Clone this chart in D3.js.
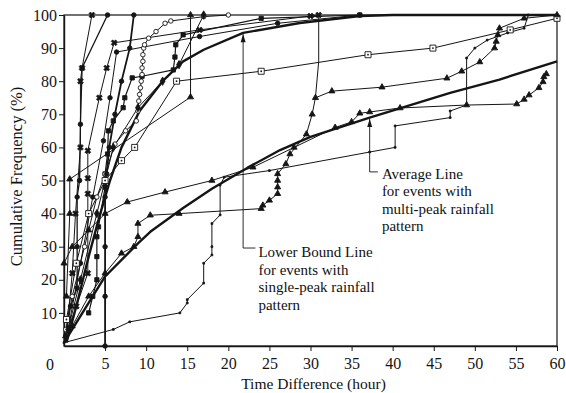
<!DOCTYPE html>
<html>
<head>
<meta charset="utf-8">
<script src="https://cdn.jsdelivr.net/npm/d3@7"></script>
<style>
  body { margin: 0; background: #fff; }
  text { font-family: "Liberation Serif", "Times New Roman", serif; fill: #111; }
</style>
</head>
<body>
<div id="rootDiv"></div>
<script>
// tick labels
const xTicks = [5, 10, 15, 20, 25, 30, 35, 40, 45, 50, 55, 60]
const yTicks = [10, 20, 30, 40, 50, 60, 70, 80, 90, 100]

// thick reference lines [hour, %]
const avgMulti = [[0,1],[2,9],[5,21],[9,31],[10.5,34.5],[14.5,41.7],[18,47.5],[22.3,53.8],[26.3,59.2],[30,63.2],[37.2,69],[47,76.5],[53,80.5],[60,86]]
const lowerSingle = [[0.3,1],[1.5,12],[3,27],[4.3,39],[5.6,50],[7,60],[9.2,71],[12,80],[14.5,86],[17,89.5],[21.8,94.6],[28.7,97.6],[36,99.7],[40,100],[60,100]]

// individual events
const evA = [[0.2,3],[0.8,12],[1.6,17.5],[1.6,30],[1.6,45],[1.9,50],[2,67],[2.2,84],[5.3,100]]
const evB = [[0.5,8],[1,22],[1.4,40],[2,60],[2,80],[2.2,84],[3.4,100]]
const evC = [[0.5,5],[1.5,12],[2.9,22],[2.9,46],[2.9,50.7],[2.9,59],[4.3,75],[5.2,84],[6.1,91.6],[16.5,95.5],[30,99.7],[31,100]]
const evD = [[0.5,5],[2,25],[3.5,45],[4.8,62],[5.6,75],[6.4,88.8],[16.5,93.5],[26,97.5],[36,100]]
const evSqO = [[0.3,8],[1.5,25],[3,40],[5,50],[7,56],[8.6,60],[13.7,80],[24,83],[37,88],[44.9,90],[54.3,95.5],[60,99]]
const evSq = [[3,10],[3.5,15],[4,20],[4,27],[4,33],[4.2,36],[5,48],[5,52],[5.3,58],[5.4,65],[6,68],[7.2,72],[7.4,75],[8.3,81],[9.5,81.5],[13.3,83.4],[13.5,87.3],[13.6,91],[14.5,94],[24,99],[36,100]]
const evCircO = [[0.2,5],[1,15],[2.5,30],[4,45],[5,52],[6.2,61],[7.5,65],[8.8,68],[9,71],[9.1,74],[9.2,76],[9.3,78],[9.4,80],[9.5,82],[9.5,84],[9.6,86],[9.6,88],[9.7,90],[9.8,91],[10.3,93],[11.2,95],[12.3,97.5],[13,98.2],[17,99.5],[20,100]]
const evE = [[0,25],[1,30],[3,35],[5,40],[7.7,43.5],[12.3,46.5],[18,50],[23,54],[28,60],[33,66],[35,67.7],[36,70.3],[37.2,70.7],[40.9,71.9],[49,72.8],[55.1,73.1],[56,74.5],[56.6,75.8],[57.8,78],[58.3,79.8],[58.4,81.3],[58.7,82.2]]
const evF = [[0.2,3],[1,6],[3,15],[5,22],[7,28],[8.5,30],[9,33],[9,37],[10.5,39.5],[14,40],[24,41.5],[24.2,42.5],[25,44],[26,46],[26,48],[26,50],[26,52],[27,55],[27.5,58],[29.5,64],[30.2,70],[30.6,75],[32.6,77],[38.7,78.2],[46.6,80.9],[48.4,83],[50.6,85.8],[52.4,90],[52.6,92],[52.8,94],[53,96],[56,99],[60,100]]
const evG = [[30.6,75],[31,86],[31,100]]
const evH = [[0.3,15],[0.7,40],[0.7,50.4],[15.4,75.2],[15.4,100]]
const evM = [[5,0],[5,15],[5,30],[5,45],[5.2,52],[5.5,60],[6.2,70],[7,80],[8,90],[8.5,100]]
const evO = [[0.5,5],[2,20],[4,40],[6,60],[9,72],[12,80],[14,85],[17,100]]
const evStep = [[0,1],[6,5],[8,7.3],[14.1,10],[15,13],[15,14],[17,19],[17,25],[18,27.5],[18,30],[18,37],[19,39.6],[19,48.6],[19.5,51],[25,53],[37.2,58.6],[40.3,60],[40.3,66.5],[47,69],[47,71],[49,72.8],[49,87],[50,90],[51.5,92.4],[54,94.6],[56,96],[56.5,100]]

// callouts: leader line points [hour, %]
const lowerArrow = [[23.3,29.6],[21.8,29.6],[21.8,94.2]]
const avgArrow = [[38.2,52.6],[37.2,52.6],[37.2,68.6]]
const lowerLabel = ["Lower Bound Line", "for events with", "single-peak rainfall", "pattern"]
const avgLabel = ["Average Line", "for events with", "multi-peak rainfall", "pattern"]

const series = [
    { d: avgMulti, w: 2.4, m: null },
    { d: lowerSingle, w: 2.4, m: null },
    { d: evA, w: 1.3, m: "circle" },
    { d: evB, w: 1, m: "x" },
    { d: evC, w: 1, m: "x" },
    { d: evD, w: 1, m: "circle" },
    { d: evSqO, w: 1, m: "osquare" },
    { d: evSq, w: 1.2, m: "square" },
    { d: evCircO, w: 1, m: "ocircle" },
    { d: evE, w: 1, m: "triangle" },
    { d: evF, w: 1, m: "triangle" },
    { d: evG, w: 1, m: null },
    { d: evH, w: 1, m: "triangle" },
    { d: evM, w: 1.8, m: "circle" },
    { d: evO, w: 1, m: "diamond" },
    { d: evStep, w: 1, m: "tick" },
]

const width = 566
const height = 393
const margin = { top: 15, right: 9, bottom: 47, left: 64 }

const svg = d3.select(document.getElementById("rootDiv"))
    .append("svg")
    .attr("width", width)
    .attr("height", height)

const x = d3.scaleLinear().domain([0, 60]).range([margin.left, width - margin.right])
const y = d3.scaleLinear().domain([0, 100]).range([height - margin.bottom, margin.top])

const ink = "#151515"

// frame
svg.append("rect")
    .attr("x", x(0)).attr("y", y(100))
    .attr("width", x(60) - x(0)).attr("height", y(0) - y(100))
    .attr("fill", "none").attr("stroke", ink).attr("stroke-width", 1.2)

// axes
const xAxis = svg.append("g")
    .attr("transform", `translate(0,${y(0)})`)
    .call(d3.axisBottom(x).tickValues(xTicks).tickSize(5).tickSizeOuter(0).tickPadding(7))
const yAxis = svg.append("g")
    .attr("transform", `translate(${x(0)},0)`)
    .call(d3.axisLeft(y).tickValues(yTicks).tickSize(5).tickSizeOuter(0).tickPadding(2))

for (const axis of [xAxis, yAxis]) {
    axis.selectAll("line").style("stroke", ink)
    axis.selectAll("path").style("stroke", ink).style("stroke-width", 1.4)
    axis.selectAll("text").style("fill", ink).style("font-size", "16px")
        .style("font-family", '"Liberation Serif", serif')
}
// lone origin label
svg.append("text")
    .attr("x", x(0) - 14).attr("y", y(0) + 24)
    .attr("text-anchor", "middle").style("font-size", "16px")
    .text("0")

// series
const line = d3.line().x(d => x(d[0])).y(d => y(d[1]))
const plot = svg.append("g")

for (const s of series) {
    plot.append("path")
        .attr("d", line(s.d))
        .attr("fill", "none")
        .attr("stroke", ink)
        .attr("stroke-width", s.w)
        .attr("stroke-linejoin", "round")
}

const sym = {
    circle: d3.symbol(d3.symbolCircle, 16),
    ocircle: d3.symbol(d3.symbolCircle, 16),
    square: d3.symbol(d3.symbolSquare, 18),
    osquare: d3.symbol(d3.symbolSquare, 36),
    triangle: d3.symbol(d3.symbolTriangle, 16),
    diamond: d3.symbol(d3.symbolDiamond, 20),
    x: d3.symbol(d3.symbolCross, 22),
    tick: d3.symbol(d3.symbolSquare, 3),
}
for (const s of series) {
    if (!s.m) continue
    const g = plot.append("g")
    g.selectAll("path")
        .data(s.d)
        .join("path")
        .attr("transform", d => `translate(${x(d[0])},${y(d[1])})` + (s.m === "x" ? " rotate(45)" : ""))
        .attr("d", sym[s.m]())
        .attr("fill", s.m === "ocircle" || s.m === "osquare" ? "#fff" : ink)
        .attr("stroke", ink)
        .attr("stroke-width", s.m === "x" ? 0.6 : 0.9)
    if (s.m === "osquare") {
        g.selectAll("circle")
            .data(s.d)
            .join("circle")
            .attr("cx", d => x(d[0])).attr("cy", d => y(d[1]))
            .attr("r", 0.9).attr("fill", ink)
    }
}

// callouts
for (const a of [lowerArrow, avgArrow]) {
    svg.append("path").attr("d", line(a)).attr("fill", "none").attr("stroke", ink).attr("stroke-width", 0.9)
    const tip = a[a.length - 1]
    svg.append("path")
        .attr("d", `M${x(tip[0])},${y(tip[1])} l-2.5,8 l5,0 z`)
        .attr("fill", ink)
}

function label(lines, px, py) {
    const t = svg.append("text").attr("x", px).attr("y", py).style("font-size", "15px")
    lines.forEach((s, i) => t.append("tspan").attr("x", px).attr("dy", i ? 17.5 : 0).text(s))
}
label(lowerLabel, x(lowerArrow[0][0]) + 3, y(lowerArrow[0][1]) + 9)
label(avgLabel, x(avgArrow[0][0]) + 4, y(avgArrow[0][1]) + 7)

// axis titles
svg.append("text")
    .attr("x", (x(0) + x(60)) / 2 + 3).attr("y", height - 4)
    .attr("text-anchor", "middle").style("font-size", "15.5px")
    .text("Time Difference (hour)")
svg.append("text")
    .attr("transform", `translate(22,${(y(0) + y(100)) / 2 - 4}) rotate(-90)`)
    .attr("text-anchor", "middle").style("font-size", "16.5px")
    .text("Cumulative Frequency (%)")
</script>
</body>
</html>
